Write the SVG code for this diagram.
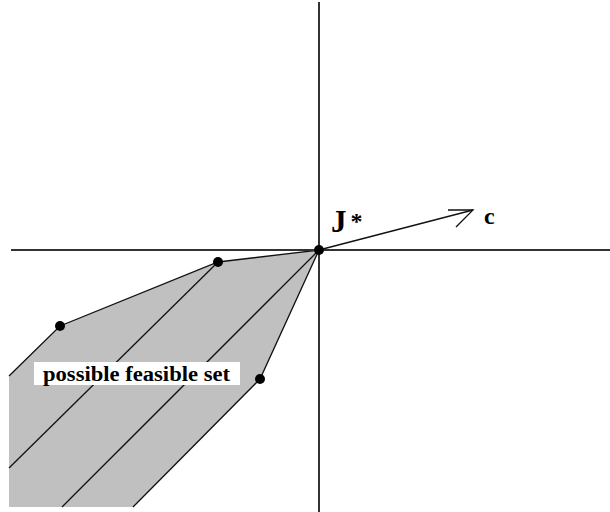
<svg xmlns="http://www.w3.org/2000/svg" width="610" height="512" viewBox="0 0 610 512">
<style>
.axis{stroke:#333;stroke-width:2;fill:none}
.edge{stroke:#111;stroke-width:1.3;fill:none}
.dot{fill:#000}
.lbl{font-family:'Liberation Serif','DejaVu Serif','Times New Roman',serif;font-weight:bold;fill:#000}
</style>
<rect width="610" height="512" fill="#fff"/>
<g id="feasible-set">
<polygon points="319,250 218,262 60,326 9,376 9,507 133,507 260,379" fill="#c0c0c0"/>
<polyline class="edge" points="9,376 60,326 218,262 319,250 260,379 133,507"/>
<line class="edge" x1="218" y1="262" x2="9" y2="468"/>
<line class="edge" x1="319" y1="250" x2="62" y2="507"/>
</g>
<g id="axes">
<line class="axis" x1="319" y1="2" x2="319" y2="512"/>
<line class="axis" x1="11" y1="250" x2="610" y2="250"/>
</g>
<g id="connectors">
<line class="edge" x1="319" y1="250" x2="473" y2="210"/>
<polyline class="edge" points="448,210 473,210 456,227"/>
</g>
<g id="vertices">
<circle class="dot" cx="319" cy="250" r="5"/>
<circle class="dot" cx="218" cy="262" r="5"/>
<circle class="dot" cx="60" cy="326" r="5"/>
<circle class="dot" cx="260" cy="379" r="5"/>
</g>
<g id="label-jstar">
<text class="lbl" x="331" y="232" font-size="31">J<tspan dx="4" dy="-3" font-size="24">*</tspan></text>
</g>
<g id="label-c">
<text class="lbl" x="484" y="224" font-size="24">c</text>
</g>
<g id="label-feasible">
<rect x="34" y="362" width="206" height="23" fill="#fff"/>
<text class="lbl" x="43" y="381" font-size="20" textLength="187" lengthAdjust="spacingAndGlyphs">possible feasible set</text>
</g>
</svg>
